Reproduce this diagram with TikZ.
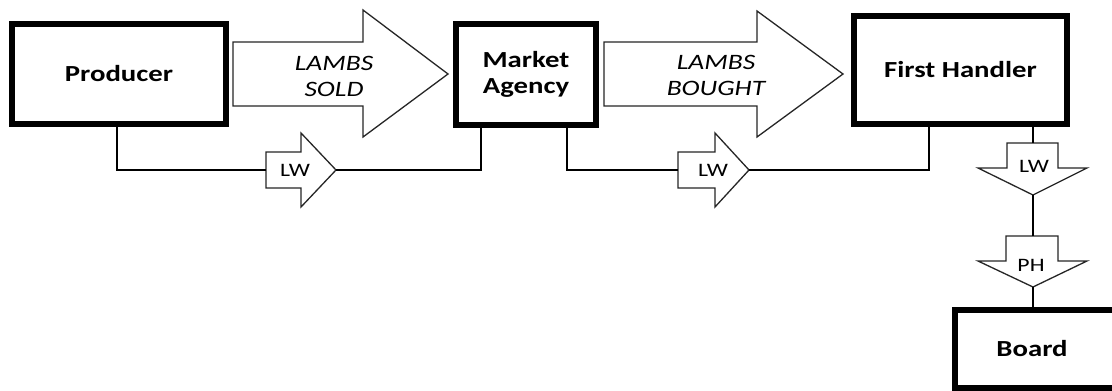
\documentclass[tikz,border=0pt]{standalone}
\usepackage{fontspec}
\setmainfont{Carlito}[FakeStretch=1.25]
\begin{document}
\begin{tikzpicture}[x=1pt,y=-1pt,
  box/.style={draw, line width=6pt, fill=white, font=\fontsize{23}{26}\selectfont\bfseries, align=center, inner sep=0pt},
  blk/.style={draw=black!85, line width=1.3pt, fill=white, line join=miter},
  conn/.style={draw, line width=1.3pt},
  bigtxt/.style={font=\fontsize{22}{26}\selectfont\itshape, align=center, inner sep=0pt},
  smtxt/.style={font=\fontsize{19}{20}\selectfont, inner sep=0pt}]
\useasboundingbox (0,0) rectangle (1112,391);
\clip (0,0) rectangle (1112,391);
\fill[white] (0,0) rectangle (1112,391);

% boxes
\node[box, minimum width=214, minimum height=100] (prod) at (119,74) {Producer};
\node[box, minimum width=140, minimum height=101] (ma) at (526,74.5) {Market\\Agency};
\node[box, minimum width=213, minimum height=108] (fh) at (960.5,70) {First Handler};
\node[box, minimum width=163, minimum height=78] (board) at (1036.5,349) {\kern-9pt Board};

% big block arrows
\draw[blk] (233,42) -- (363,42) -- (363,10) -- (448,74) -- (363,137) -- (363,106) -- (233,106) -- cycle;
\node[bigtxt] (sold) at (334,76) {LAMBS\\SOLD};
\draw[blk] (604,42) -- (757,42) -- (757,11) -- (843,74) -- (757,137) -- (757,106) -- (604,106) -- cycle;
\node[bigtxt] (bought) at (716,75.5) {LAMBS\\BOUGHT};

% small block arrows
\coordinate (lw1in) at (266,170); \coordinate (lw1out) at (336,170);
\draw[blk] (266,152) -- (301,152) -- (301,133) -- (336,170) -- (301,207) -- (301,188) -- (266,188) -- cycle;
\node[smtxt] (lw1) at (295,170) {LW};

\coordinate (lw2in) at (678,170); \coordinate (lw2out) at (749,170);
\draw[blk] (678,152) -- (715,152) -- (715,133) -- (749,170) -- (715,207) -- (715,188) -- (678,188) -- cycle;
\node[smtxt] (lw2) at (713,170) {LW};

\coordinate (lw3in) at (1033,143); \coordinate (lw3out) at (1033,195);
\draw[blk] (1007,143) -- (1007,168) -- (978,168) -- (1033,195) -- (1087,168) -- (1058,168) -- (1058,143) -- cycle;
\node[smtxt] (lw3) at (1034,166) {LW};

\coordinate (phin) at (1033,236); \coordinate (phout) at (1033,287);
\draw[blk] (1006,236) -- (1006,261) -- (978,261) -- (1033,287) -- (1087,261) -- (1058,261) -- (1058,236) -- cycle;
\node[smtxt] (ph) at (1031,265) {PH};

% connectors
\draw[conn] ([xshift=-2]prod.south) |- (lw1in);
\draw[conn] (lw1out) -| ([xshift=-45]ma.south);
\draw[conn] ([xshift=41]ma.south) |- (lw2in);
\draw[conn] (lw2out) -| ([xshift=-31.5]fh.south);
\draw[conn] ([xshift=72.5]fh.south) -- (lw3in);
\draw[conn] (lw3out) -- (phin);
\draw[conn] (phout) -- (board.north -| phout);
\end{tikzpicture}
\end{document}
